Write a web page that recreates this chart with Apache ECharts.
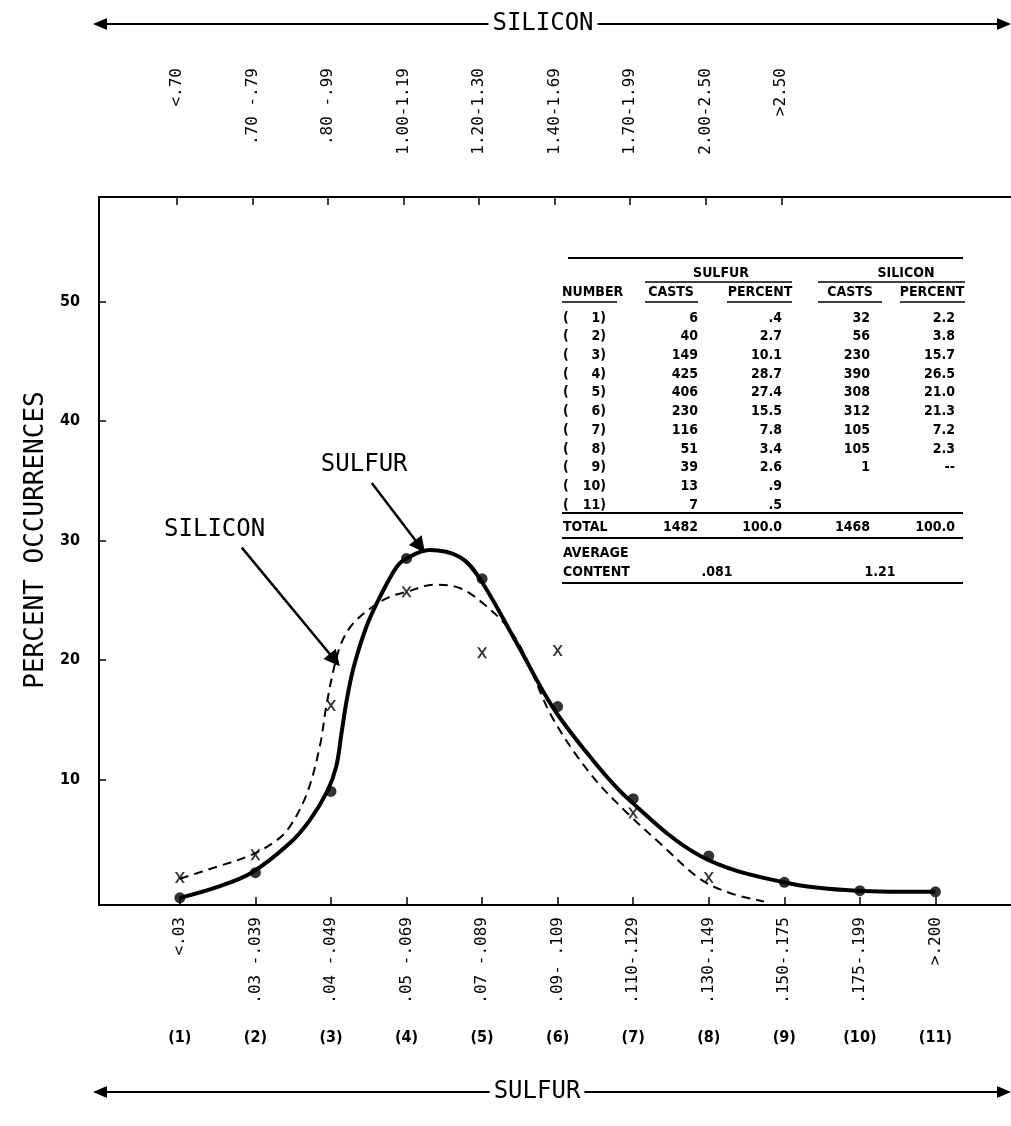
<!DOCTYPE html>
<html>
<head>
<meta charset="utf-8">
<script src="https://cdn.jsdelivr.net/npm/echarts@6/dist/echarts.min.js"></script>
<style>
html, body { margin: 0; padding: 0; background: #fff; }
#main { width: 1011px; height: 1126px; }
</style>
</head>
<body>
<div id="main"></div>
<script>
// bins (x positions 1..11)
const binIndex = [1, 2, 3, 4, 5, 6, 7, 8, 9, 10, 11];
const sulfurBins = ['<.03', '.03 -.039', '.04 -.049', '.05 -.069', '.07 -.089', '.09- .109',
  '.110-.129', '.130-.149', '.150-.175', '.175-.199', '>.200'];
const siliconBins = ['<.70', '.70 -.79', '.80 -.99', '1.00-1.19', '1.20-1.30', '1.40-1.69',
  '1.70-1.99', '2.00-2.50', '>2.50'];
const binNumbers = ['(1)', '(2)', '(3)', '(4)', '(5)', '(6)', '(7)', '(8)', '(9)', '(10)', '(11)'];
const yTicks = [10, 20, 30, 40, 50];

// plotted points
const sulfurPoints = [0.1, 2.2, 9.0, 28.5, 26.8, 16.1, 8.4, 3.6, 1.4, 0.7, 0.6];
const siliconPoints = [1.8, 3.7, 16.2, 25.7, 20.6, 20.8, 7.2, 1.8];

// hand drawn curves
const sulfurCurveX = [1.0, 1.49, 1.95, 2.46, 2.72, 2.95, 3.07, 3.14, 3.21, 3.30, 3.47, 3.65, 3.87, 4.0, 4.3, 4.71, 4.97, 5.46, 5.93, 6.43, 6.93, 7.89, 8.99, 9.95, 11.0];
const sulfurCurveY = [0.1, 1.0, 2.2, 4.7, 6.6, 9.0, 11.1, 13.9, 16.7, 19.4, 22.8, 25.3, 27.8, 28.5, 29.2, 28.6, 26.8, 21.4, 16.1, 11.9, 8.4, 3.6, 1.4, 0.7, 0.6];
const siliconCurveX = [1.0, 1.49, 1.95, 2.28, 2.46, 2.68, 2.85, 2.94, 3.05, 3.15, 3.3, 3.56, 3.78, 4.0, 4.36, 4.71, 5.02, 5.33, 5.55, 5.92, 6.43, 6.92, 7.40, 7.88, 8.28, 8.73];
const siliconCurveY = [1.7, 2.7, 3.7, 4.9, 6.1, 8.8, 12.7, 16.2, 19.6, 21.6, 23.1, 24.5, 25.3, 25.7, 26.3, 26.0, 24.7, 22.8, 20.6, 15.3, 10.5, 7.2, 4.4, 1.7, 0.5, -0.2];

// table
const tableNumbers = ['1', '2', '3', '4', '5', '6', '7', '8', '9', '10', '11'];
const sulfurCasts = ['6', '40', '149', '425', '406', '230', '116', '51', '39', '13', '7'];
const sulfurPercent = ['.4', '2.7', '10.1', '28.7', '27.4', '15.5', '7.8', '3.4', '2.6', '.9', '.5'];
const siliconCasts = ['32', '56', '230', '390', '308', '312', '105', '105', '1', '', ''];
const siliconPercent = ['2.2', '3.8', '15.7', '26.5', '21.0', '21.3', '7.2', '2.3', '--', '', ''];
const totals = ['1482', '100.0', '1468', '100.0'];
const averages = ['.081', '1.21'];

const MONO = "'DejaVu Sans Mono', monospace";
const TFONT = "bold 14px 'Liberation Sans Narrow', 'DejaVu Sans Condensed', sans-serif";

let chart = echarts.init(document.getElementById('main'));

// table drawn as graphic texts
function buildTable() {
  let els = [];
  const txt = (s, x, y, align, font) => els.push({
    type: 'text', style: { text: s, x: x, y: y, textAlign: align || 'right', textVerticalAlign: 'middle', font: font || TFONT, fill: '#000' }
  });
  const rule = (x1, x2, y, w) => els.push({
    type: 'line', shape: { x1: x1, y1: y, x2: x2, y2: y }, style: { stroke: '#000', lineWidth: w || 1.5 }
  });
  rule(568, 963, 258, 2);
  txt('SULFUR', 721, 273, 'center');
  txt('SILICON', 906, 273, 'center');
  rule(645, 792, 282);
  rule(818, 965, 282);
  txt('NUMBER', 562, 292, 'left');
  txt('CASTS', 671, 292, 'center');
  txt('PERCENT', 760, 292, 'center');
  txt('CASTS', 850, 292, 'center');
  txt('PERCENT', 932, 292, 'center');
  rule(562, 617, 302); rule(645, 698, 302); rule(727, 792, 302);
  rule(818, 882, 302); rule(900, 965, 302);
  tableNumbers.forEach((n, i) => {
    let y = 318 + i * 18.7;
    txt('(', 563, y, 'left');
    txt(n + ')', 606, y);
    txt(sulfurCasts[i], 698, y);
    txt(sulfurPercent[i], 782, y);
    txt(siliconCasts[i], 870, y);
    txt(siliconPercent[i], 955, y);
  });
  rule(562, 963, 513, 2);
  txt('TOTAL', 563, 527, 'left');
  txt(totals[0], 698, 527);
  txt(totals[1], 782, 527);
  txt(totals[2], 870, 527);
  txt(totals[3], 955, 527);
  rule(562, 963, 538, 2);
  txt('AVERAGE', 563, 553, 'left');
  txt('CONTENT', 563, 572, 'left');
  txt(averages[0], 717, 572, 'center');
  txt(averages[1], 880, 572, 'center');
  rule(562, 963, 583, 2);
  return els;
}

// long arrows top and bottom
function bigArrow(y, label, cx) {
  return [
    { type: 'line', shape: { x1: 100, y1: y, x2: 1004, y2: y }, style: { stroke: '#000', lineWidth: 2 } },
    { type: 'polygon', shape: { points: [[93, y], [107, y - 6], [107, y + 6]] }, style: { fill: '#000' } },
    { type: 'polygon', shape: { points: [[1011, y], [997, y - 6], [997, y + 6]] }, style: { fill: '#000' } },
    { type: 'text', style: { text: label, x: cx, y: y, textAlign: 'center', textVerticalAlign: 'middle',
        font: '24px ' + MONO, fill: '#000', backgroundColor: '#fff', padding: [0, 4] } }
  ];
}

const xMin = -0.07, xMax = 12.0;

let option = {
  animation: false,
  backgroundColor: '#fff',
  grid: { left: 99, right: 0, top: 197, bottom: 221, containLabel: false, outerBoundsMode: 'none' },
  xAxis: [
    {
      type: 'value', position: 'bottom', min: xMin, max: xMax,
      splitLine: { show: false },
      axisLine: { onZero: false, lineStyle: { color: '#000', width: 2 } },
      axisTick: { inside: true, length: 8, customValues: binIndex, lineStyle: { color: '#000', width: 1.5 } },
      axisLabel: {
        customValues: binIndex, rotate: 90, margin: 12,
        formatter: v => sulfurBins[Math.round(v) - 1],
        fontFamily: MONO, fontSize: 16, color: '#000'
      }
    },
    {
      type: 'value', position: 'top', min: xMin + 0.04, max: xMax + 0.04,
      splitLine: { show: false },
      axisLine: { onZero: false, lineStyle: { color: '#000', width: 2 } },
      axisTick: { inside: true, length: 8, customValues: binIndex.slice(0, 9), lineStyle: { color: '#000', width: 1.5 } },
      axisLabel: {
        customValues: binIndex.slice(0, 9), rotate: -90, margin: 129, align: 'right',
        formatter: v => siliconBins[Math.round(v) - 1],
        fontFamily: MONO, fontSize: 16, color: '#000'
      }
    },
    {
      type: 'value', position: 'bottom', min: xMin, max: xMax,
      splitLine: { show: false }, axisLine: { show: false, onZero: false }, axisTick: { show: false },
      axisLabel: {
        customValues: binIndex, margin: 125,
        formatter: v => binNumbers[Math.round(v) - 1],
        fontFamily: "'DejaVu Sans Condensed', sans-serif", fontWeight: 'bold', fontSize: 16, color: '#000'
      }
    }
  ],
  yAxis: {
    type: 'value', min: -0.5, max: 58.74,
    name: 'PERCENT OCCURRENCES', nameLocation: 'middle', nameRotate: 90, nameGap: 47,
    nameTextStyle: { fontFamily: MONO, fontSize: 26, color: '#000', padding: [0, 0, 0, 22] },
    splitLine: { show: false },
    axisLine: { onZero: false, lineStyle: { color: '#000', width: 2 } },
    axisTick: { inside: true, length: 7, customValues: yTicks, lineStyle: { color: '#000', width: 1.5 } },
    axisLabel: {
      customValues: yTicks, margin: 19,
      fontFamily: "'DejaVu Sans Condensed', sans-serif", fontWeight: 'bold', fontSize: 16, color: '#000'
    }
  },
  series: [
    {
      name: 'sulfur curve', type: 'line', smooth: 0.35, showSymbol: false, silent: true,
      data: sulfurCurveX.map((x, i) => [x, sulfurCurveY[i]]),
      lineStyle: { color: '#000', width: 4 },
      markLine: {
        silent: true, symbol: ['none', 'triangle'], symbolSize: 16,
        label: { show: false },
        lineStyle: { color: '#000', width: 2.5, type: 'solid' },
        data: [
          [{ coord: [3.54, 34.8] }, { coord: [4.18, 29.5] }],
          [{ coord: [1.82, 29.4] }, { coord: [3.05, 20.0] }]
        ]
      },
      markPoint: {
        silent: true, symbol: 'circle', symbolSize: 0,
        label: { show: true, position: 'inside', formatter: p => p.name, fontFamily: MONO, fontSize: 24, color: '#000' },
        data: [
          { name: 'SULFUR', coord: [3.44, 36.3] },
          { name: 'SILICON', coord: [1.46, 30.9] }
        ]
      }
    },
    {
      name: 'silicon curve', type: 'line', smooth: 0.35, showSymbol: false, silent: true,
      data: siliconCurveX.map((x, i) => [x, siliconCurveY[i]]),
      lineStyle: { color: '#000', width: 2, type: [9, 6] }
    },
    {
      name: 'sulfur', type: 'scatter', symbol: 'circle', symbolSize: 11,
      data: sulfurPoints.map((v, i) => [binIndex[i], v]),
      itemStyle: { color: '#000' }
    },
    {
      name: 'silicon', type: 'scatter', symbolSize: [10, 11],
      symbol: 'path://M0,0 L2.2,0 L5,3.6 L7.8,0 L10,0 L6.2,5 L10,10 L7.8,10 L5,6.4 L2.2,10 L0,10 L3.8,5 Z',
      data: siliconPoints.map((v, i) => [binIndex[i], v]),
      itemStyle: { color: '#000' }
    }
  ],
  graphic: buildTable().concat(bigArrow(24, 'SILICON', 543), bigArrow(1092, 'SULFUR', 537))
};

chart.setOption(option);
</script>
</body>
</html>
